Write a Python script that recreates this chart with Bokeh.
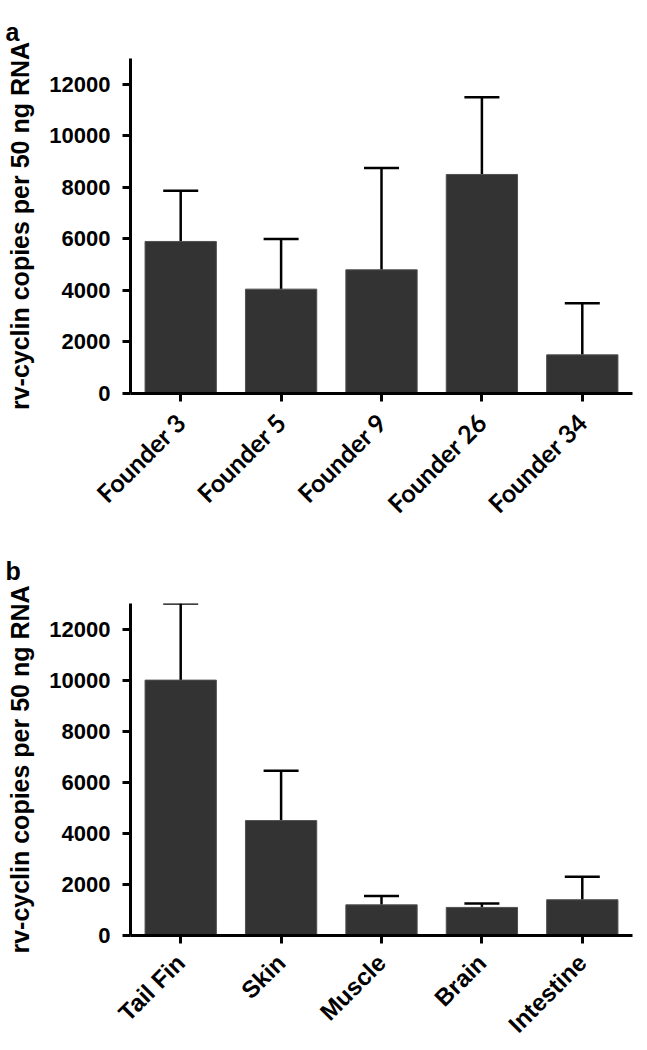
import math
from bokeh.plotting import figure
from bokeh.models import ColumnDataSource, Whisker, TeeHead, FixedTicker
from bokeh.layouts import column
from bokeh.embed import file_html
from bokeh.resources import INLINE

# Panel a data
founders = ["Founder 3", "Founder 5", "Founder 9", "Founder 26", "Founder 34"]
founder_means = [5900, 4050, 4800, 8500, 1500]
founder_upper = [7870, 6000, 8750, 11500, 3500]

# Panel b data
tissues = ["Tail Fin", "Skin", "Muscle", "Brain", "Intestine"]
tissue_means = [10000, 4500, 1200, 1100, 1400]
tissue_upper = [13000, 6450, 1550, 1250, 2300]

y_ticks = [0, 2000, 4000, 6000, 8000, 10000, 12000]
y_label = "rv-cyclin copies per 50 ng RNA"
panel_letters = ["a", "b"]

BAR = "#333333"
TICK_FONT = "Liberation Sans"


def make_panel(cats, means, upper, letter, height, border_top, border_bottom,
               xfont, xsize, xstandoff, title_standoff):
    src = ColumnDataSource(dict(cat=cats, mean=means, upper=upper))
    p = figure(x_range=cats, y_range=(0, 13000), width=640, height=height,
               output_backend="svg", toolbar_location=None,
               min_border_left=130, min_border_right=8,
               min_border_top=border_top, min_border_bottom=border_bottom,
               title=letter)
    p.x_range.range_padding = 0.0
    p.vbar(x="cat", top="mean", width=0.71, source=src,
           fill_color=BAR, line_color="#505050", line_width=1)
    w = Whisker(base="cat", upper="upper", lower="mean", source=src,
                upper_head=TeeHead(size=35, line_width=2.5, line_color="black"),
                lower_head=None, line_width=2.5, line_color="black")
    p.add_layout(w)

    p.grid.visible = False
    p.outline_line_color = None
    p.background_fill_color = "white"
    p.border_fill_color = "white"

    p.title.align = "left"
    p.title.offset = -125
    p.title.standoff = title_standoff
    p.title.text_font = TICK_FONT
    p.title.text_font_style = "bold"
    p.title.text_font_size = "25px"
    p.title.text_color = "black"

    for ax in (p.xaxis[0], p.yaxis[0]):
        ax.axis_line_width = 3
        ax.axis_line_color = "black"
        ax.major_tick_line_width = 3
        ax.major_tick_line_color = "black"
        ax.major_tick_out = 8
        ax.major_tick_in = 0
        ax.minor_tick_line_color = None
        ax.major_label_text_font_style = "bold"
        ax.major_label_text_color = "black"

    yax = p.yaxis[0]
    yax.ticker = FixedTicker(ticks=y_ticks)
    yax.major_label_text_font = TICK_FONT
    yax.major_label_text_font_size = "22px"
    yax.major_label_standoff = 12
    yax.axis_label = y_label
    yax.axis_label_text_font = TICK_FONT
    yax.axis_label_text_font_style = "bold"
    yax.axis_label_text_font_size = "25px"
    yax.axis_label_text_color = "black"
    yax.axis_label_standoff = 12

    xax = p.xaxis[0]
    xax.major_label_orientation = math.pi / 4
    xax.major_label_text_font = xfont
    xax.major_label_text_font_size = xsize
    xax.major_label_standoff = xstandoff
    return p


pa = make_panel(founders, founder_means, founder_upper, panel_letters[0],
                532, 58, 139, "Lato", "25px", 16, 25)
pb = make_panel(tissues, tissue_means, tissue_upper, panel_letters[1],
                518, 71, 113, TICK_FONT, "24px", 15, 38)

layout = column(pa, pb, spacing=0)
open("out.html", "w").write(file_html(layout, INLINE))
